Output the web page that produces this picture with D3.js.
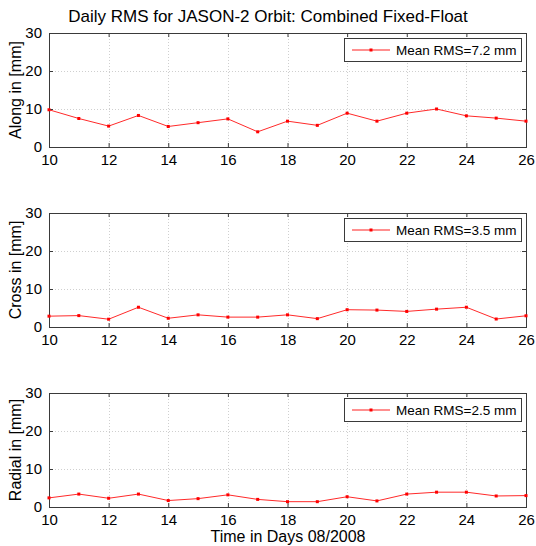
<!DOCTYPE html>
<html><head><meta charset="utf-8">
<script src="https://cdn.jsdelivr.net/npm/d3@7"></script>
<style>
html,body{margin:0;padding:0;background:#fff;}
svg{display:block;font-family:"Liberation Sans",Arial,Helvetica,sans-serif;}
</style></head>
<body>
<script>
const days = [10,11,12,13,14,15,16,17,18,19,20,21,22,23,24,25,26];
const alongValues = [9.8,7.5,5.5,8.3,5.4,6.4,7.4,4.0,6.8,5.7,8.9,6.8,8.9,10.0,8.2,7.6,6.8];
const crossValues = [2.85,3.0,2.05,5.2,2.3,3.2,2.6,2.6,3.2,2.2,4.55,4.45,4.1,4.7,5.2,2.1,2.95];
const radialValues = [2.4,3.4,2.3,3.4,1.7,2.2,3.2,2.0,1.4,1.4,2.7,1.6,3.4,3.9,3.9,2.9,3.0];
const panelLabels = ["Along in [mm]","Cross in [mm]","Radial in [mm]"];
const legendLabels = ["Mean RMS=7.2 mm","Mean RMS=3.5 mm","Mean RMS=2.5 mm"];
const xTicks = [10,12,14,16,18,20,22,24,26];
const yTicks = [0,10,20,30];
const titleText = "Daily RMS for JASON-2 Orbit: Combined Fixed-Float";
const xLabelText = "Time in Days 08/2008";

const W = 536, H = 546;
const svg = d3.select("body").append("svg").attr("width",W).attr("height",H);
const left = 49, right = 526, ph = 114;
const tops = [33, 213, 393];
const x = d3.scaleLinear().domain([10,26]).range([left,right]);
const series = [alongValues, crossValues, radialValues];
const axisColor = "#3a3a3a";

svg.append("text").attr("x",268).attr("y",22).attr("text-anchor","middle")
  .attr("font-size",17).attr("fill","#000").text(titleText);

series.forEach((vals,i)=>{
  const t = tops[i];
  const y = d3.scaleLinear().domain([0,30]).range([t+ph,t]);
  const g = svg.append("g");
  // grid
  g.selectAll(".gx").data(xTicks.slice(1,-1)).join("line")
    .attr("x1",d=>Math.round(x(d))+0.5).attr("x2",d=>Math.round(x(d))+0.5).attr("y1",t).attr("y2",t+ph)
    .attr("stroke","#cfcfcf").attr("stroke-dasharray","1,2").attr("stroke-width",1);
  g.selectAll(".gy").data(yTicks.slice(1,-1)).join("line")
    .attr("y1",d=>Math.round(y(d))+0.5).attr("y2",d=>Math.round(y(d))+0.5).attr("x1",left).attr("x2",right)
    .attr("stroke","#cfcfcf").attr("stroke-dasharray","1,2").attr("stroke-width",1);
  // axes via d3
  const xb = d3.axisBottom(x).tickValues(xTicks).tickSize(-4).tickPadding(7).tickFormat(d3.format("d"));
  const xt = d3.axisTop(x).tickValues(xTicks).tickSize(-4).tickFormat("");
  const yl = d3.axisLeft(y).tickValues(yTicks).tickSize(-4).tickPadding(7);
  const yr = d3.axisRight(y).tickValues(yTicks).tickSize(-4).tickFormat("");
  const styleAxis = sel => {
    sel.selectAll("path").attr("stroke",axisColor);
    sel.selectAll("line").attr("stroke",axisColor);
    sel.selectAll("text").attr("fill","#000").attr("font-size",15)
      .attr("font-family","'Liberation Sans',Arial,sans-serif");
  };
  g.append("g").attr("transform",`translate(0,${t+ph})`).call(xb).call(styleAxis).call(s=>s.select(".domain").remove());
  g.append("g").attr("transform",`translate(0,${t})`).call(xt).call(styleAxis).call(s=>s.select(".domain").remove());
  g.append("g").attr("transform",`translate(${left},0)`).call(yl).call(styleAxis).call(s=>s.select(".domain").remove());
  g.append("g").attr("transform",`translate(${right},0)`).call(yr).call(styleAxis).call(s=>s.select(".domain").remove());
  g.append("rect").attr("x",left+0.5).attr("y",t+0.5).attr("width",right-left).attr("height",ph)
    .attr("fill","none").attr("stroke",axisColor).attr("stroke-width",1);
  // line
  const line = d3.line().x((d,j)=>x(days[j])).y(d=>y(d));
  g.append("path").datum(vals).attr("d",line).attr("fill","none").attr("stroke","#ff2a2a").attr("stroke-width",1);
  g.selectAll(".pt").data(vals).join("rect")
    .attr("x",(d,j)=>x(days[j])-1.5).attr("y",d=>y(d)-1.5).attr("width",3).attr("height",3).attr("fill","#ff0000");
  // y label
  svg.append("text").attr("transform",`translate(21,${t+ph/2}) rotate(-90)`).attr("text-anchor","middle")
    .attr("font-size",16).attr("fill","#000").text(panelLabels[i]);
  // legend
  const lx = 344, ly = t+5, lw = 177, lh = 23;
  g.append("rect").attr("x",lx+0.5).attr("y",ly+0.5).attr("width",lw).attr("height",lh)
    .attr("fill","#fff").attr("stroke",axisColor).attr("stroke-width",1);
  const cy = ly + lh/2 + 0.5;
  g.append("line").attr("x1",lx+8).attr("x2",lx+46).attr("y1",cy).attr("y2",cy).attr("stroke","#ff6a6a").attr("stroke-width",1.3);
  g.append("rect").attr("x",lx+27-1.5).attr("y",cy-1.5).attr("width",3).attr("height",3).attr("fill","#ff0000");
  g.append("text").attr("x",lx+52).attr("y",cy+5).attr("font-size",13.5).attr("fill","#000").text(legendLabels[i]);
});

svg.append("text").attr("x",288).attr("y",542).attr("text-anchor","middle")
  .attr("font-size",16).attr("fill","#000").text(xLabelText);
</script>
</body></html>
